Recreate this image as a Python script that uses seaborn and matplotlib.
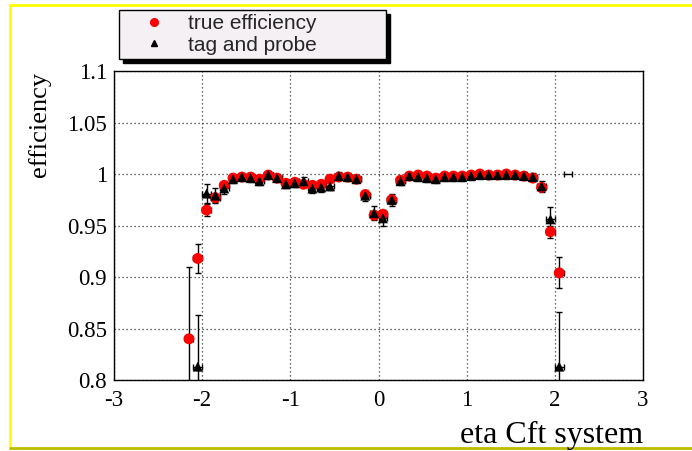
import numpy as np
import pandas as pd
import matplotlib
matplotlib.use("Agg")
import matplotlib.pyplot as plt
from matplotlib.lines import Line2D
from matplotlib.ticker import MultipleLocator, FuncFormatter
import seaborn as sns

# eta bin centres of the CFT efficiency histograms
eta = [-2.15, -2.05, -1.95, -1.85, -1.75, -1.65, -1.55, -1.45, -1.35, -1.25,
       -1.15, -1.05, -0.95, -0.85, -0.75, -0.65, -0.55, -0.45, -0.35, -0.25,
       -0.15, -0.05, 0.05, 0.15, 0.25, 0.35, 0.45, 0.55, 0.65, 0.75,
       0.85, 0.95, 1.05, 1.15, 1.25, 1.35, 1.45, 1.55, 1.65, 1.75,
       1.85, 1.95, 2.05]

true_eff = [0.840, 0.918, 0.965, 0.977, 0.989, 0.996, 0.997, 0.997, 0.995, 0.999,
            0.996, 0.991, 0.992, 0.990, 0.989, 0.990, 0.995, 0.997, 0.997, 0.995,
            0.980, 0.960, 0.961, 0.975, 0.994, 0.998, 0.999, 0.998, 0.996, 0.998,
            0.998, 0.998, 0.999, 1.000, 0.999, 0.999, 1.000, 0.999, 0.998, 0.996,
            0.987, 0.944, 0.904]
true_err = [0.070, 0.014, 0.006, 0.004, 0.003, 0.002, 0.002, 0.002, 0.002, 0.001,
            0.002, 0.002, 0.002, 0.002, 0.002, 0.002, 0.002, 0.002, 0.002, 0.002,
            0.003, 0.004, 0.004, 0.004, 0.002, 0.001, 0.001, 0.001, 0.002, 0.001,
            0.001, 0.001, 0.001, 0.001, 0.001, 0.001, 0.001, 0.001, 0.001, 0.002,
            0.003, 0.006, 0.015]

tp_eff = [np.nan, 0.813, 0.981, 0.979, 0.986, 0.995, 0.997, 0.996, 0.993, 0.999,
          0.996, 0.990, 0.991, 0.993, 0.986, 0.987, 0.988, 0.998, 0.997, 0.995,
          0.979, 0.962, 0.957, 0.975, 0.993, 0.998, 0.997, 0.996, 0.995, 0.997,
          0.997, 0.997, 0.998, 0.999, 0.999, 0.999, 0.999, 0.999, 0.998, 0.997,
          0.988, 0.956, 0.813]
tp_err = [np.nan, 0.050, 0.009, 0.007, 0.005, 0.004, 0.004, 0.004, 0.004, 0.004,
          0.004, 0.004, 0.004, 0.004, 0.004, 0.004, 0.004, 0.004, 0.004, 0.004,
          0.005, 0.007, 0.007, 0.006, 0.004, 0.004, 0.004, 0.004, 0.004, 0.004,
          0.004, 0.004, 0.004, 0.004, 0.004, 0.004, 0.004, 0.004, 0.004, 0.004,
          0.005, 0.012, 0.053]

# last tag-and-probe bin, full efficiency with no statistical error
edge_eta = [2.15]
edge_eff = [1.000]

half_width = 0.05

x_ticks = [-3, -2, -1, 0, 1, 2, 3]
y_ticks = [0.8, 0.85, 0.9, 0.95, 1.0, 1.05, 1.1]

sns.set_theme(style="white")
plt.rcParams["font.family"] = ["Liberation Serif", "DejaVu Serif"]

W, H = 692, 451
fig = plt.figure(figsize=(W / 100, H / 100), dpi=100)
ax = fig.add_axes([114 / W, 1 - 380 / H, (643 - 114) / W, (380 - 71) / H])

n = len(eta)
df = pd.DataFrame({
    "eta": eta + eta,
    "eff": true_eff + tp_eff,
    "sample": ["true efficiency"] * n + ["tag and probe"] * n,
})

err_style = dict(fmt="none", ecolor="black", elinewidth=1.0, capsize=2.2,
                 capthick=1.0, zorder=2)
ax.errorbar(eta, true_eff, xerr=half_width, yerr=true_err, **err_style)
ax.errorbar(eta, tp_eff, xerr=half_width, yerr=tp_err, **err_style)
ax.errorbar(edge_eta, edge_eff, xerr=half_width, **err_style)

sns.scatterplot(data=df[df["sample"] == "true efficiency"], x="eta", y="eff",
                color="#ff0000", marker="o", s=62, edgecolor="none",
                ax=ax, legend=False, zorder=3)
sns.scatterplot(data=df[df["sample"] == "tag and probe"], x="eta", y="eff",
                color="black", marker="^", s=52, edgecolor="none",
                ax=ax, legend=False, zorder=4)

ax.set_xlim(-3, 3)
ax.set_ylim(0.8, 1.1)
ax.set_xticks(x_ticks)
ax.set_yticks(y_ticks)
ax.xaxis.set_minor_locator(MultipleLocator(0.2))
ax.yaxis.set_minor_locator(MultipleLocator(0.01))
ax.xaxis.set_major_formatter(FuncFormatter(lambda v, p: "%g" % v))
ax.yaxis.set_major_formatter(FuncFormatter(lambda v, p: "%g" % round(v, 3)))

ax.tick_params(axis="both", which="both", direction="in", top=False, right=False,
               colors="black", labelsize=16.5, width=0.9)
ax.tick_params(axis="y", which="major", length=11, pad=5)
ax.tick_params(axis="y", which="minor", length=5)
ax.tick_params(axis="x", which="major", length=7, pad=7)
ax.tick_params(axis="x", which="minor", length=4.5)

for sp in ax.spines.values():
    sp.set_color("black")
    sp.set_linewidth(1.0)

ax.grid(True, which="major", color="#333333", linestyle=(0, (1, 2.2)), linewidth=0.9)
ax.set_axisbelow(True)

ax.set_xlabel("")
ax.set_ylabel("")
fig.text(643 / W, 1 - 443 / H, "eta Cft system", ha="right", va="baseline",
         fontsize=23, color="black")
fig.text(40 / W, 1 - 72 / H, "efficiency", ha="center", va="top",
         rotation=90, fontsize=19, color="black")

handles = [
    Line2D([], [], linestyle="none", marker="o", color="#ff0000", markersize=5.5),
    Line2D([], [], linestyle="none", marker="^", color="black", markersize=4.5),
]
labels = ["true efficiency", "tag and probe"]
leg = fig.legend(handles, labels, loc="upper left",
                 bbox_to_anchor=(119 / W, 1 - 10 / H, (386 - 119) / W, 0),
                 mode="expand", borderaxespad=0, borderpad=0.2,
                 labelspacing=0.12, handlelength=3.0, handletextpad=0.1,
                 fancybox=False, frameon=True, facecolor="#f4f0f4",
                 edgecolor="black", framealpha=1,
                 shadow={"ox": 3, "oy": -3, "color": "black", "alpha": 1},
                 prop={"family": "Liberation Sans", "size": 15})
leg.get_frame().set_linewidth(1.0)

# yellow canvas border
fig.add_artist(Line2D([10 / W, 1], [1 - 5 / H, 1 - 5 / H], color="#ffff00", lw=2))
fig.add_artist(Line2D([10 / W, 10 / W], [1 - 5 / H, 1 - 448 / H], color="#ffff00", lw=2))
fig.add_artist(Line2D([10 / W, 1], [1 - 448 / H, 1 - 448 / H], color="#bcbc00", lw=2))

fig.savefig("out.png", dpi=100, facecolor="white")
